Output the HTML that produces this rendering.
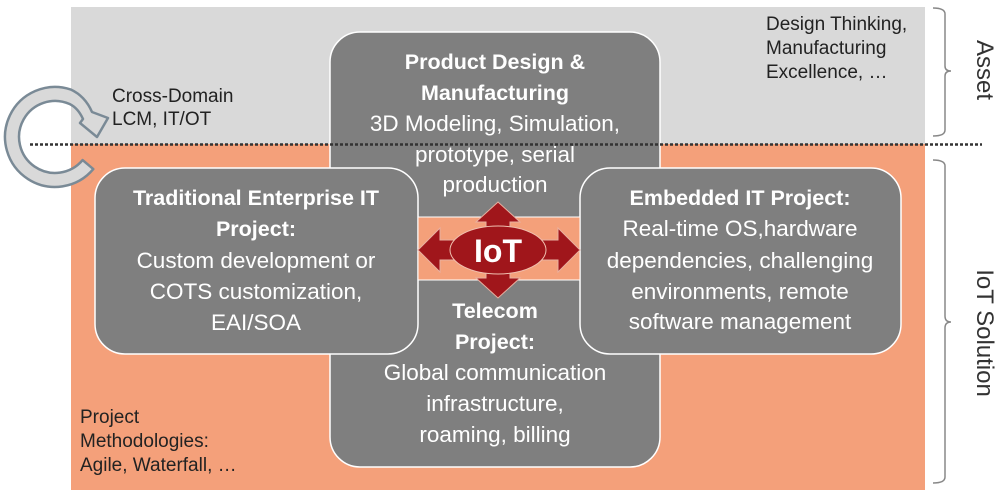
<!DOCTYPE html>
<html><head><meta charset="utf-8"><style>
html,body{margin:0;padding:0;background:#fff;}
svg{display:block;font-family:"Liberation Sans",sans-serif;}
.w{fill:#fff;font-size:22.5px;text-anchor:middle;}
.b{font-weight:bold;font-size:21.5px;}
.s{fill:#222;font-size:19px;}
</style></head><body>
<svg width="1004" height="495" viewBox="0 0 1004 495">
<rect x="71" y="7" width="854" height="137" fill="#d9d9d9"/>
<rect x="71" y="144" width="854" height="346" fill="#f4a07a"/>
<rect x="330" y="32" width="330" height="435" rx="30" fill="#7f7f7f" stroke="#fff" stroke-width="1.5"/>
<rect x="95" y="168" width="323" height="186" rx="30" fill="#7f7f7f" stroke="#fff" stroke-width="1.5"/>
<rect x="580" y="168" width="321" height="186" rx="30" fill="#7f7f7f" stroke="#fff" stroke-width="1.5"/>
<rect x="418" y="217" width="162" height="63" fill="#f4a07a" stroke="#fff" stroke-width="1"/>
<g fill="#a0161b" stroke="#e8b0a0" stroke-width="1">
<polygon points="498,202 520,222 510,222 510,278 520,278 498,298 476,278 486,278 486,222 476,222"/>
<polygon points="418,250 440,228 440,240 558,240 558,228 580,250 558,272 558,260 440,260 440,272"/>
</g>
<ellipse cx="498" cy="250" rx="48" ry="24" fill="#a0161b" stroke="#f0c0b0" stroke-width="1"/>
<text x="498" y="262" fill="#fff" font-size="32" font-weight="bold" text-anchor="middle">IoT</text>
<line x1="30" y1="144.5" x2="982" y2="144.5" stroke="#333" stroke-width="2.5" stroke-dasharray="3,2"/>
<text class="w b" x="495" y="69">Product Design &amp;</text>
<text class="w b" x="495" y="100">Manufacturing</text>
<text class="w" x="495" y="131">3D Modeling, Simulation,</text>
<text class="w" x="495" y="162">prototype,  serial</text>
<text class="w" x="495" y="192">production</text>
<text class="w b" x="495" y="318">Telecom</text>
<text class="w b" x="495" y="349">Project:</text>
<text class="w" x="495" y="380">Global communication</text>
<text class="w" x="495" y="411">infrastructure,</text>
<text class="w" x="495" y="442">roaming, billing</text>
<text class="w b" x="256" y="205">Traditional Enterprise IT</text>
<text class="w b" x="256" y="236">Project:</text>
<text class="w" x="256" y="268">Custom development or</text>
<text class="w" x="256" y="299">COTS customization,</text>
<text class="w" x="256" y="330">EAI/SOA</text>
<text class="w b" x="740" y="205">Embedded IT Project:</text>
<text class="w" x="740" y="236">Real-time OS,hardware</text>
<text class="w" x="740" y="268">dependencies, challenging</text>
<text class="w" x="740" y="299">environments, remote</text>
<text class="w" x="740" y="329">software management</text>
<text class="s" x="112" y="102">Cross-Domain</text>
<text class="s" x="112" y="125">LCM, IT/OT</text>
<text class="s" x="766" y="30">Design Thinking,</text>
<text class="s" x="766" y="54">Manufacturing</text>
<text class="s" x="766" y="78">Excellence, …</text>
<text class="s" x="80" y="423">Project</text>
<text class="s" x="80" y="447">Methodologies:</text>
<text class="s" x="80" y="471">Agile, Waterfall, …</text>
<path d="M93.3,169.1 A50,50 0 1 1 70.5,89.4 Q85,96 92,112 L108,118 L97,137 L80,123 L83,119 Q78,108 69.6,104 A36,36 0 1 0 82.6,160.1 Z" fill="#d9d9d9" stroke="#7a8a96" stroke-width="2.5" stroke-linejoin="round"/>
<g fill="none" stroke="#888" stroke-width="1.5">
<path d="M933,8 Q945,8 945,14 L945,66 Q945,71 951,71 Q945,71 945,76 L945,130 Q945,136 933,136"/>
<path d="M933,160 Q945,160 945,166 L945,316 Q945,322 951,322 Q945,322 945,328 L945,477 Q945,483 933,483"/>
</g>
<text transform="translate(977,70) rotate(90)" fill="#333" font-size="24" text-anchor="middle">Asset</text>
<text transform="translate(977,333) rotate(90)" fill="#333" font-size="24" text-anchor="middle">IoT Solution</text>
</svg>
</body></html>
